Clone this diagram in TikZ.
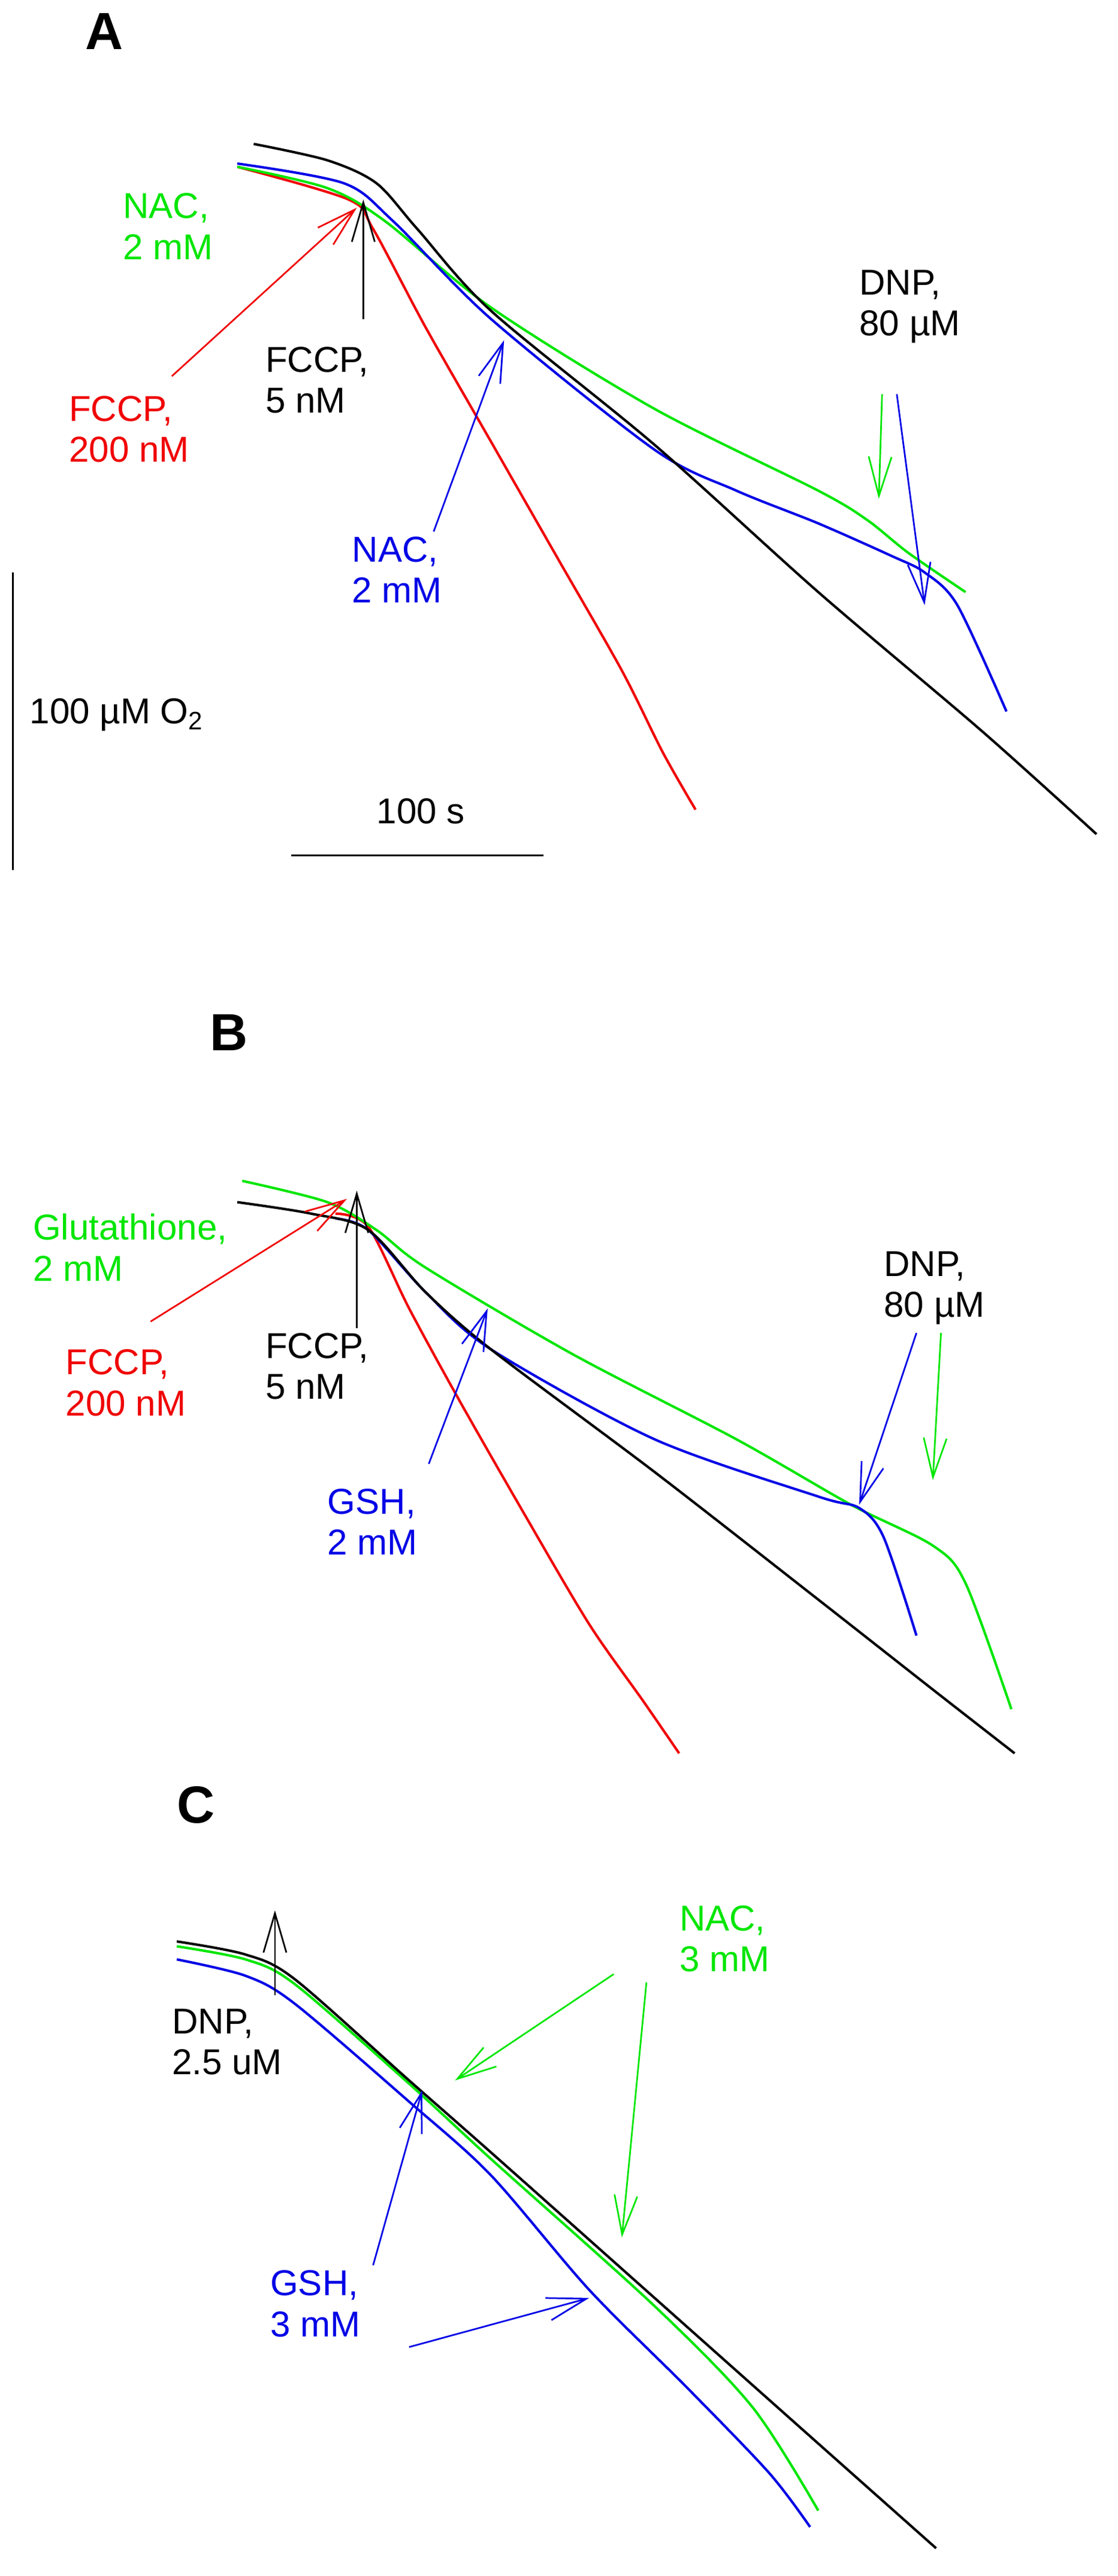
\documentclass[tikz,border=0pt]{standalone}
\usepackage{fontspec}
\setmainfont{Liberation Sans}
\usetikzlibrary{arrows.meta}
\definecolor{gr}{RGB}{0,230,0}
\definecolor{bl}{RGB}{0,0,230}
\definecolor{rd}{RGB}{240,0,0}
\begin{document}
\begin{tikzpicture}[x=1pt,y=-1pt,
 trace/.style={line width=1.5pt,line join=round},
 arr/.style={line width=1pt,-{Straight Barb[length=24pt,width=14pt,line width=1pt]}},
 lab/.style={font=\fontsize{22}{25}\selectfont,align=left,anchor=north west,inner sep=0pt},
 panel/.style={font=\bfseries\fontsize{32}{32}\selectfont,anchor=north west,inner sep=0pt}]
\useasboundingbox (0,0) rectangle (683,1575);
% ---------- A
\node[panel] (pA) at (52,8) {A};
\draw[trace,rd] plot[smooth,tension=0.5] coordinates {(145,102) (213,122) (228,140) (260,200) (300,270) (340,340) (380,410) (405,460) (425,495)};
\draw[trace,gr] plot[smooth,tension=0.5] coordinates {(145,102) (200,115) (235,135) (300,188) (400,250) (500,300) (530,318) (555,338) (590,362)};
\draw[trace,bl] plot[smooth,tension=0.5] coordinates {(145,100) (210,112) (240,135) (300,195) (400,275) (450,300) (500,320) (545,340) (565,350) (585,370) (615,435)};
\draw[trace,black] plot[smooth,tension=0.5] coordinates {(155,88) (200,98) (230,112) (255,140) (300,190) (400,272) (500,362) (600,447) (670,510)};
\coordinate (tA1) at (222,122);
\coordinate (tA2) at (218,127);
\coordinate (tA3) at (308,208);
\coordinate (tA4) at (537,305);
\coordinate (tA5) at (565,370);
\node[lab,gr] (nacA) at (75,118) {NAC,\\2 mM};
\node[lab,rd] (fccpA2) at (42,242) {FCCP,\\200 nM};
\node[lab,black] (fccpA1) at (162,212) {FCCP,\\5 nM};
\node[lab,bl] (nacA2) at (215,328) {NAC,\\2 mM};
\node[lab,black] (dnpA) at (525,165) {DNP,\\80 µM};
\draw[arr,black] (222,195) -- (tA1);
\draw[arr,rd] (105,230) -- (tA2);
\draw[arr,bl] (265,325) -- (tA3);
\draw[arr,gr] (539,241) -- (tA4);
\draw[arr,bl] (548,241) -- (tA5);
% scale bars
\coordinate (sv1) at (8,350); \coordinate (sv2) at (8,532);
\draw[line width=1pt] (sv1) -- (sv2);
\node[lab] (sbv) at (18,427) {100 µM O\textsubscript{2}};
\coordinate (sh1) at (178,523); \coordinate (sh2) at (332,523);
\draw[line width=1pt] (sh1) -- (sh2);
\node[lab] (sbh) at (230,488) {100 s};
% ---------- B
\node[panel] (pB) at (128,620) {B};
\draw[trace,rd] plot[smooth,tension=0.5] coordinates {(205,742) (225,750) (250,800) (280,855) (320,925) (360,993) (393,1040) (415,1072)};
\draw[trace,gr] plot[smooth,tension=0.5] coordinates {(148,722) (200,735) (230,752) (260,775) (350,828) (450,880) (520,920) (570,945) (590,968) (618,1045)};
\draw[trace,bl] plot[smooth,tension=0.5] coordinates {(205,745) (225,752) (260,790) (300,825) (400,880) (500,915) (525,922) (540,940) (560,1000)};
\draw[trace,black] plot[smooth,tension=0.5] coordinates {(145,735) (190,742) (225,752) (260,790) (300,825) (400,900) (500,978) (570,1033) (620,1072)};
\coordinate (tB1) at (218,728);
\coordinate (tB2) at (212,733);
\coordinate (tB3) at (298,800);
\coordinate (tB4) at (525,920);
\coordinate (tB5) at (570,905);
\node[lab,gr] (gluB) at (20,742) {Glutathione,\\2 mM};
\node[lab,rd] (fccpB2) at (40,825) {FCCP,\\200 nM};
\node[lab,black] (fccpB1) at (162,815) {FCCP,\\5 nM};
\node[lab,bl] (gshB) at (200,910) {GSH,\\2 mM};
\node[lab,black] (dnpB) at (540,765) {DNP,\\80 µM};
\draw[arr,black] (218,812) -- (tB1);
\draw[arr,rd] (92,808) -- (tB2);
\draw[arr,bl] (262,895) -- (tB3);
\draw[arr,bl] (560,815) -- (tB4);
\draw[arr,gr] (575,815) -- (tB5);
% ---------- C
\node[panel] (pC) at (108,1092) {C};
\draw[trace,gr] plot[smooth,tension=0.5] coordinates {(108,1190) (150,1198) (180,1213) (250,1274) (300,1320) (400,1410) (460,1472) (500,1535)};
\draw[trace,bl] plot[smooth,tension=0.5] coordinates {(108,1198) (150,1208) (180,1225) (250,1285) (300,1330) (360,1400) (420,1460) (470,1512) (495,1545)};
\draw[trace,black] plot[smooth,tension=0.5] coordinates {(108,1187) (150,1195) (180,1210) (250,1272) (300,1316) (400,1405) (500,1494) (572,1558)};
\coordinate (tC1) at (168,1168);
\coordinate (tC2) at (278,1272);
\coordinate (tC3) at (380,1368);
\coordinate (tC4) at (258,1278);
\coordinate (tC5) at (360,1405);
\node[lab,black] (dnpC) at (105,1228) {DNP,\\2.5 uM};
\node[lab,gr] (nacC) at (415,1165) {NAC,\\3 mM};
\node[lab,bl] (gshC) at (165,1388) {GSH,\\3 mM};
\draw[arr,black] (168,1220) -- (tC1);
\draw[arr,gr] (375,1207) -- (tC2);
\draw[arr,gr] (395,1212) -- (tC3);
\draw[arr,bl] (228,1385) -- (tC4);
\draw[arr,bl] (250,1435) -- (tC5);
\end{tikzpicture}
\end{document}
